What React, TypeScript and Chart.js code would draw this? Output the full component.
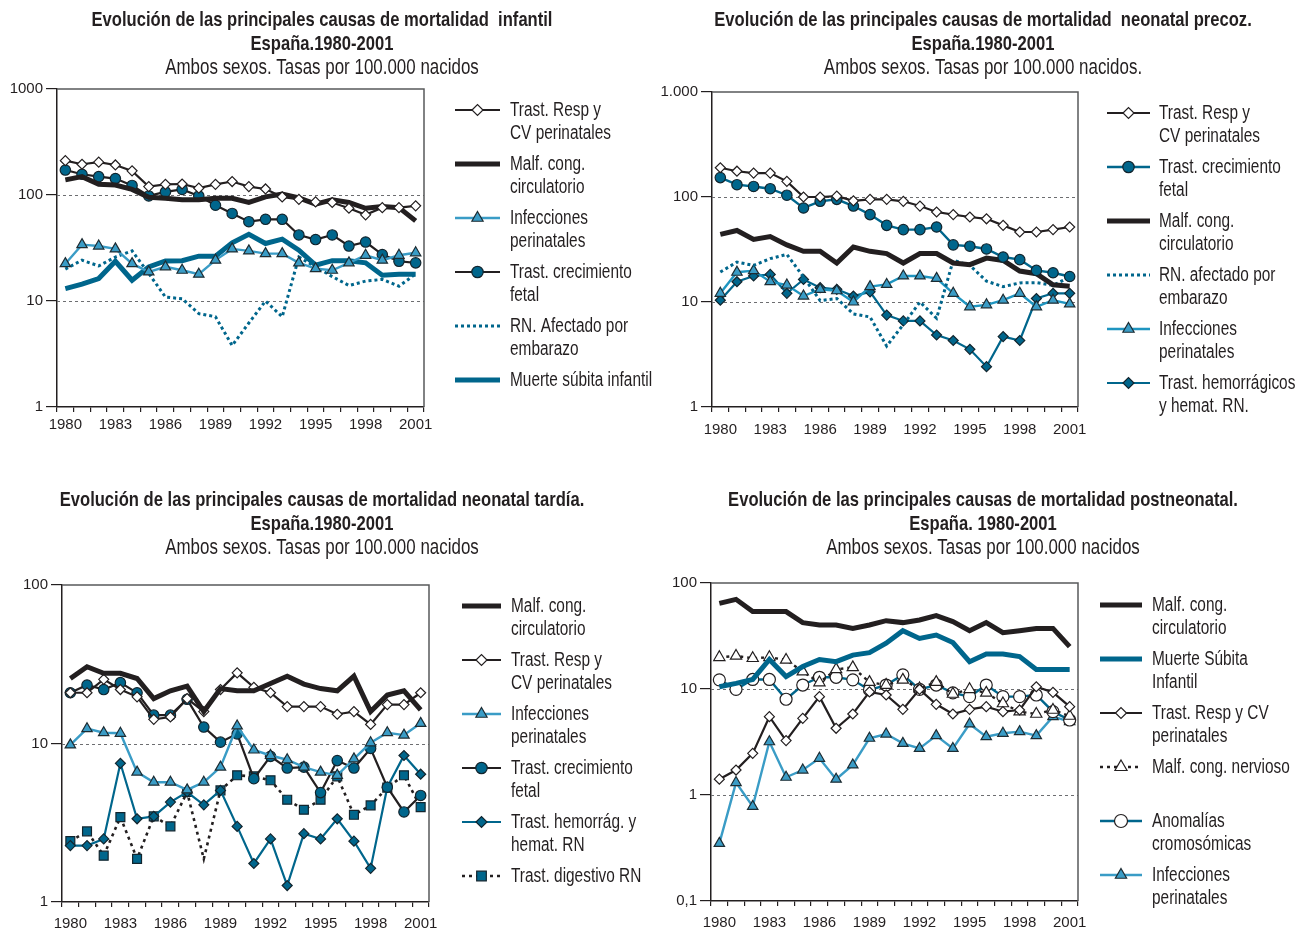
import React, { useEffect, useRef } from 'react';
import { Chart, registerables } from 'chart.js';
import { drawPoint } from 'chart.js/helpers';

Chart.register(...registerables);
Chart.defaults.font.family = "'Liberation Sans', Arial, sans-serif";

// ---------- categories ----------
const YEARS = ['1980', '1981', '1982', '1983', '1984', '1985', '1986', '1987', '1988', '1989', '1990',
  '1991', '1992', '1993', '1994', '1995', '1996', '1997', '1998', '1999', '2000', '2001'];

// ---------- panel 1: mortalidad infantil ----------
const P1_TICKS = [1, 10, 100, 1000];
const P1_TICK_LABELS = ['1', '10', '100', '1000'];
const p1Resp = [211, 195, 204, 192, 169, 120, 126, 127, 116, 126, 134, 120, 114, 96, 91, 86, 85, 75, 65, 76, 76, 79];
const p1Malf = [139, 149, 126, 124, 113, 95, 93, 90, 90, 93, 93, 85, 96, 102, 94, 82, 90, 85, 75, 78, 76, 57];
const p1Infec = [22.5, 34, 33, 31, 22.5, 18.8, 21, 19.5, 17.9, 24.3, 31, 29.7, 28, 28, 22.9, 20.2, 19.5, 22.9, 27, 24.3, 27, 28.5];
const p1Crec = [172, 157, 149, 143, 123, 98, 107, 113, 98, 80, 67, 56, 59, 59, 42, 38, 42, 33, 36, 27.4, 23.7, 22.9];
const p1RN = [20, 24.3, 21.4, 26, 29.7, 18.2, 10.9, 10.5, 7.6, 7.1, 3.8, 6.2, 10, 7.1, 26, 21, 17, 14, 15.4, 16, 13.8, 18];
const p1Muerte = [13.1, 14.4, 16.3, 23.7, 15.7, 21, 23.9, 24, 26.5, 26.5, 35.4, 42.5, 34.9, 38.3, 30.2, 21.8, 24, 24, 22.9, 17.5, 17.9, 17.9];

// ---------- panel 2: neonatal precoz ----------
const P2_TICKS = [1, 10, 100, 1000];
const P2_TICK_LABELS = ['1', '10', '100', '1.000'];
const p2Resp = [190, 176, 169, 169, 141, 100, 100, 102, 92, 95, 95, 91, 82, 72, 68, 64.5, 62, 53.7, 46.4, 46.4, 48.9, 51.8];
const p2Crec = [153, 131, 126, 120, 104, 78.6, 91, 95, 82, 68, 53.7, 48.9, 48.9, 51.8, 35, 34, 32, 26.8, 25.3, 20, 19, 17.5];
const p2Malf = [44, 48, 39.5, 42, 35, 30.4, 30.4, 23.5, 33.4, 30.4, 28.9, 23.5, 28.9, 28.9, 23.5, 22.7, 26.2, 24.9, 19.7, 18.6, 14.6, 14.1];
const p2RN = [19.3, 24, 22.3, 25.9, 28.4, 17.3, 10.3, 10.8, 7.7, 7.2, 3.8, 6.1, 10, 7, 25, 22.3, 15.8, 14, 15.2, 15.3, 14.4, 17.3];
const p2Infec = [12.1, 19.2, 19.9, 15.6, 14.5, 11.4, 13.2, 12.8, 10, 14, 14.7, 17.7, 17.7, 16.8, 12.1, 9.0, 9.4, 10.4, 12.1, 9.0, 10.4, 9.6];
const p2Hemor = [10.4, 15.6, 17.7, 18.3, 12.1, 16.4, 13.7, 13.2, 11.4, 12.5, 7.5, 6.6, 6.6, 4.85, 4.3, 3.54, 2.42, 4.68, 4.3, 10.8, 12.1, 12.1];

// ---------- panel 3: neonatal tardía ----------
const P3_TICKS = [1, 10, 100];
const P3_TICK_LABELS = ['1', '10', '100'];
const p3Malf = [25.7, 30.5, 27.7, 27.7, 25.7, 19.2, 21.5, 23, 15.9, 22.2, 21.5, 21.5, 23.9, 26.6, 23.7, 22.2, 21.5, 26.6, 15.9, 20.2, 21.5, 16.3];
const p3Resp = [20.9, 20.9, 25.4, 21.9, 19.7, 14.2, 14.7, 19.2, 15.9, 21.9, 27.9, 22.6, 20.9, 17.1, 17.1, 17.1, 15.3, 15.9, 13.2, 17.6, 17.6, 20.9];
const p3Infec = [9.8, 12.4, 11.7, 11.6, 6.6, 5.7, 5.7, 5.1, 5.7, 7.1, 12.9, 9.1, 8.4, 7.9, 7.1, 6.6, 6.3, 8.0, 10.1, 11.7, 11.3, 13.4];
const p3Crec = [20.9, 23.4, 21.9, 24.2, 20.9, 15.1, 15.1, 19.0, 12.7, 10.2, 11.5, 6.0, 8.3, 7.0, 7.1, 4.9, 7.8, 7.0, 9.3, 5.3, 3.7, 4.7];
const p3Hemor = [2.27, 2.27, 2.5, 7.5, 3.35, 3.47, 4.27, 4.94, 4.1, 5.06, 3.0, 1.75, 2.5, 1.27, 2.7, 2.5, 3.35, 2.42, 1.63, 5.3, 8.4, 6.4];
const p3Dig = [2.42, 2.79, 1.96, 3.43, 1.87, 3.47, 3.0, 4.94, 1.87, 5.06, 6.3, 6.2, 5.86, 4.42, 3.82, 4.42, 6.2, 3.55, 4.07, 5.27, 6.3, 3.97];
const p3DigMarker = [1, 1, 1, 1, 1, 1, 1, 1, 0, 1, 1, 1, 1, 1, 1, 1, 1, 1, 1, 1, 1, 1];

// ---------- panel 4: postneonatal ----------
const P4_TICKS = [0.1, 1, 10, 100];
const P4_TICK_LABELS = ['0,1', '1', '10', '100'];
const p4Malf = [64.3, 70.1, 53.7, 53.7, 53.7, 42.3, 40.2, 40.2, 37.3, 40.2, 44.1, 42.3, 44.8, 49.2, 43.2, 35.5, 42.3, 34.0, 35.5, 37.3, 37.3, 25.1];
const p4Muerte = [10.5, 11.3, 12.3, 19.0, 13.1, 16.3, 19.0, 18.1, 20.9, 22.0, 27.0, 35.5, 30.0, 32.3, 27.4, 18.1, 21.4, 21.4, 20.2, 15.3, 15.3, 15.3];
const p4Resp = [1.41, 1.72, 2.47, 5.48, 3.26, 5.29, 8.47, 4.26, 5.81, 9.4, 8.78, 6.43, 9.93, 7.17, 5.81, 6.43, 6.81, 6.11, 6.34, 10.5, 9.3, 6.81];
const p4Nerv = [19.9, 20.5, 19.5, 19.9, 18.8, 14.6, 11.5, 15.3, 16.0, 11.6, 10.9, 12.2, 10.1, 11.6, 8.97, 9.93, 9.2, 7.3, 6.11, 5.81, 6.34, 5.56];
const p4Anom = [12.2, 9.93, 12.3, 12.3, 8.0, 10.9, 12.9, 12.9, 12.2, 9.8, 10.9, 13.6, 9.93, 10.9, 9.2, 8.47, 10.9, 8.47, 8.47, 8.78, 6.11, 5.1];
const p4Infec = [0.35, 1.31, 0.78, 3.18, 1.47, 1.72, 2.22, 1.41, 1.92, 3.43, 3.76, 3.07, 2.75, 3.63, 2.75, 4.68, 3.55, 3.82, 3.96, 3.63, 5.48, 4.92];

// ---------- styles ----------
const INK = '#231f20';
const DBLUE = '#00668c';
const LBLUE = '#3a9cc6';
const TEAL = '#1f95c0';

type Sty = { color: string; width: number; dash?: number[]; marker?: string; r?: number | number[]; fill?: string; edge?: string };

function line(label: string, data: number[], s: Sty) {
  return {
    label,
    data,
    borderColor: s.color,
    backgroundColor: s.color,
    borderWidth: s.width,
    borderDash: s.dash || [],
    borderCapStyle: 'butt',
    borderJoinStyle: 'miter',
    tension: 0,
    fill: false,
    pointStyle: s.marker || 'circle',
    pointRadius: s.marker ? (s.r ?? 5) : 0,
    pointHoverRadius: s.marker ? (s.r ?? 5) : 0,
    pointBackgroundColor: s.fill || '#ffffff',
    pointBorderColor: s.edge || INK,
    pointBorderWidth: 1.2,
  };
}

const thinBlackDiamond: Sty = { color: INK, width: 2.2, marker: 'rectRot', r: 5, fill: '#ffffff', edge: INK };
const thickBlack: Sty = { color: INK, width: 5 };
const thickBlue: Sty = { color: DBLUE, width: 5 };
const blueDots: Sty = { color: DBLUE, width: 3, dash: [3, 3] };
const lightTri: Sty = { color: LBLUE, width: 2.4, marker: 'triangle', r: 6, fill: LBLUE, edge: '#1d2c33' };
const tealTri: Sty = { color: TEAL, width: 2.4, marker: 'triangle', r: 6, fill: LBLUE, edge: '#1d2c33' };
const blackCircle: Sty = { color: INK, width: 2.2, marker: 'circle', r: 5.2, fill: DBLUE, edge: '#12252e' };
const blueCircle: Sty = { color: DBLUE, width: 2.4, marker: 'circle', r: 5.2, fill: DBLUE, edge: '#12252e' };
const blueDiamond: Sty = { color: DBLUE, width: 2.2, marker: 'rectRot', r: 5, fill: DBLUE, edge: '#12252e' };

type Panel = {
  left: number; top: number; W: number; H: number;
  area: { L: number; T: number; R: number; B: number };
  xPad: number;
  yMin: number; yMax: number; yTicks: number[]; yLabels: string[]; grid: number[];
  titleX: number; titleY: number; bold: string[]; sub: string;
  legend: { x1: number; x2: number; tx: number; y0: number; entries: { ds: number; lines: string[] }[] };
  datasets: any[];
};

const PANELS: Panel[] = [
  {
    left: 0, top: 0, W: 655, H: 470,
    area: { L: 57, T: 89, R: 424, B: 407 }, xPad: 4,
    yMin: 1, yMax: 1000, yTicks: P1_TICKS, yLabels: P1_TICK_LABELS, grid: [10, 100],
    titleX: 322, titleY: 20,
    bold: ['Evolución de las principales causas de mortalidad  infantil', 'España.1980-2001'],
    sub: 'Ambos sexos. Tasas por 100.000 nacidos',
    legend: {
      x1: 455, x2: 500, tx: 510, y0: 110, entries: [
        { ds: 0, lines: ['Trast. Resp y', 'CV perinatales'] },
        { ds: 1, lines: ['Malf. cong.', 'circulatorio'] },
        { ds: 2, lines: ['Infecciones', 'perinatales'] },
        { ds: 3, lines: ['Trast. crecimiento', 'fetal'] },
        { ds: 4, lines: ['RN. Afectado por', 'embarazo'] },
        { ds: 5, lines: ['Muerte súbita infantil'] },
      ],
    },
    datasets: [
      line('Trast. Resp y CV perinatales', p1Resp, thinBlackDiamond),
      line('Malf. cong. circulatorio', p1Malf, thickBlack),
      line('Infecciones perinatales', p1Infec, lightTri),
      line('Trast. crecimiento fetal', p1Crec, blackCircle),
      line('RN. Afectado por embarazo', p1RN, blueDots),
      line('Muerte súbita infantil', p1Muerte, thickBlue),
    ],
  },
  {
    left: 655, top: 0, W: 655, H: 470,
    area: { L: 57, T: 92, R: 423, B: 407 }, xPad: 9,
    yMin: 1, yMax: 1000, yTicks: P2_TICKS, yLabels: P2_TICK_LABELS, grid: [10, 100],
    titleX: 328, titleY: 20,
    bold: ['Evolución de las principales causas de mortalidad  neonatal precoz.', 'España.1980-2001'],
    sub: 'Ambos sexos. Tasas por 100.000 nacidos.',
    legend: {
      x1: 452, x2: 495, tx: 504, y0: 113, entries: [
        { ds: 0, lines: ['Trast. Resp y', 'CV perinatales'] },
        { ds: 1, lines: ['Trast. crecimiento', 'fetal'] },
        { ds: 2, lines: ['Malf. cong.', 'circulatorio'] },
        { ds: 3, lines: ['RN. afectado por', 'embarazo'] },
        { ds: 4, lines: ['Infecciones', 'perinatales'] },
        { ds: 5, lines: ['Trast. hemorrágicos', 'y hemat. RN.'] },
      ],
    },
    datasets: [
      line('Trast. Resp y CV perinatales', p2Resp, thinBlackDiamond),
      line('Trast. crecimiento fetal', p2Crec, blueCircle),
      line('Malf. cong. circulatorio', p2Malf, thickBlack),
      line('RN. afectado por embarazo', p2RN, blueDots),
      line('Infecciones perinatales', p2Infec, tealTri),
      line('Trast. hemorrágicos y hemat. RN.', p2Hemor, blueDiamond),
    ],
  },
  {
    left: 0, top: 470, W: 655, H: 470,
    area: { L: 62, T: 115, R: 429, B: 432 }, xPad: 8,
    yMin: 1, yMax: 100, yTicks: P3_TICKS, yLabels: P3_TICK_LABELS, grid: [10],
    titleX: 322, titleY: 30,
    bold: ['Evolución de las principales causas de mortalidad neonatal tardía.', 'España.1980-2001'],
    sub: 'Ambos sexos. Tasas por 100.000 nacidos',
    legend: {
      x1: 462, x2: 501, tx: 511, y0: 136, entries: [
        { ds: 0, lines: ['Malf. cong.', 'circulatorio'] },
        { ds: 1, lines: ['Trast. Resp y', 'CV perinatales'] },
        { ds: 2, lines: ['Infecciones', 'perinatales'] },
        { ds: 3, lines: ['Trast. crecimiento', 'fetal'] },
        { ds: 4, lines: ['Trast. hemorrág. y', 'hemat. RN'] },
        { ds: 5, lines: ['Trast. digestivo RN'] },
      ],
    },
    datasets: [
      line('Malf. cong. circulatorio', p3Malf, thickBlack),
      line('Trast. Resp y CV perinatales', p3Resp, thinBlackDiamond),
      line('Infecciones perinatales', p3Infec, lightTri),
      line('Trast. crecimiento fetal', p3Crec, blackCircle),
      line('Trast. hemorrág. y hemat. RN', p3Hemor, blueDiamond),
      line('Trast. digestivo RN', p3Dig, { color: INK, width: 2.6, dash: [3, 4], marker: 'rect', r: p3DigMarker.map((m) => m * 6.3), fill: DBLUE, edge: '#12252e' }),
    ],
  },
  {
    left: 655, top: 470, W: 655, H: 470,
    area: { L: 56, T: 113, R: 423, B: 431 }, xPad: 8,
    yMin: 0.1, yMax: 100, yTicks: P4_TICKS, yLabels: P4_TICK_LABELS, grid: [1, 10],
    titleX: 328, titleY: 30,
    bold: ['Evolución de las principales causas de mortalidad postneonatal.', 'España. 1980-2001'],
    sub: 'Ambos sexos. Tasas por 100.000 nacidos',
    legend: {
      x1: 445, x2: 487, tx: 497, y0: 135, entries: [
        { ds: 0, lines: ['Malf. cong.', 'circulatorio'] },
        { ds: 1, lines: ['Muerte Súbita', 'Infantil'] },
        { ds: 2, lines: ['Trast. Resp y CV', 'perinatales'] },
        { ds: 3, lines: ['Malf. cong. nervioso'] },
        { ds: 4, lines: ['Anomalías', 'cromosómicas'] },
        { ds: 5, lines: ['Infecciones', 'perinatales'] },
      ],
    },
    datasets: [
      line('Malf. cong. circulatorio', p4Malf, thickBlack),
      line('Muerte Súbita Infantil', p4Muerte, thickBlue),
      line('Trast. Resp y CV perinatales', p4Resp, thinBlackDiamond),
      line('Malf. cong. nervioso', p4Nerv, { color: INK, width: 2.4, dash: [3, 4], marker: 'triangle', r: 6.5, fill: '#ffffff', edge: INK }),
      line('Anomalías cromosómicas', p4Anom, { color: DBLUE, width: 2.4, marker: 'circle', r: 6, fill: '#ffffff', edge: INK }),
      line('Infecciones perinatales', p4Infec, lightTri),
    ],
  },
];

function txt(ctx: CanvasRenderingContext2D, s: string, x: number, y: number, font: string, align: CanvasTextAlign, sx: number) {
  ctx.save();
  ctx.font = font;
  ctx.fillStyle = INK;
  ctx.textBaseline = 'middle';
  ctx.textAlign = align;
  ctx.translate(x, y);
  ctx.scale(sx, 1);
  ctx.fillText(s, 0, 0);
  ctx.restore();
}

function makeDeco(p: Panel) {
  return {
    id: 'deco',
    beforeDatasetsDraw(chart: any) {
      const { ctx, chartArea: a } = chart;
      const ys = chart.scales.y;
      ctx.save();
      ctx.strokeStyle = '#6d6e71';
      ctx.lineWidth = 1;
      ctx.setLineDash([3, 3]);
      for (const v of p.grid) {
        const py = Math.round(ys.getPixelForValue(v)) + 0.5;
        ctx.beginPath();
        ctx.moveTo(a.left, py);
        ctx.lineTo(a.right, py);
        ctx.stroke();
      }
      ctx.setLineDash([]);
      ctx.strokeStyle = '#58595b';
      ctx.lineWidth = 1.5;
      ctx.beginPath();
      ctx.moveTo(a.left, a.top);
      ctx.lineTo(a.right, a.top);
      ctx.lineTo(a.right, a.bottom);
      ctx.stroke();
      ctx.restore();
    },
    afterDraw(chart: any) {
      const ctx: CanvasRenderingContext2D = chart.ctx;
      // titles
      txt(ctx, p.bold[0], p.titleX, p.titleY, "bold 21px 'Liberation Sans', Arial, sans-serif", 'center', 0.79);
      txt(ctx, p.bold[1], p.titleX, p.titleY + 24, "bold 21px 'Liberation Sans', Arial, sans-serif", 'center', 0.79);
      txt(ctx, p.sub, p.titleX, p.titleY + 48, "22px 'Liberation Sans', Arial, sans-serif", 'center', 0.77);
      // legend
      const L = p.legend;
      L.entries.forEach((e, k) => {
        const yy = L.y0 + k * 54;
        const d = p.datasets[e.ds];
        ctx.save();
        ctx.strokeStyle = d.borderColor;
        ctx.lineWidth = d.borderWidth;
        ctx.lineCap = 'butt';
        ctx.setLineDash(d.borderDash || []);
        ctx.beginPath();
        ctx.moveTo(L.x1, yy);
        ctx.lineTo(L.x2, yy);
        ctx.stroke();
        ctx.restore();
        const r = Array.isArray(d.pointRadius) ? Math.max(...d.pointRadius) : d.pointRadius;
        if (r > 0) {
          ctx.save();
          ctx.fillStyle = d.pointBackgroundColor;
          ctx.strokeStyle = d.pointBorderColor;
          ctx.lineWidth = d.pointBorderWidth;
          ctx.setLineDash([]);
          drawPoint(ctx, { pointStyle: d.pointStyle, radius: r + 0.5, rotation: 0, borderWidth: d.pointBorderWidth } as any, (L.x1 + L.x2) / 2, yy);
          ctx.restore();
        }
        e.lines.forEach((t, i) => txt(ctx, t, L.tx, yy + i * 23.5, "20px 'Liberation Sans', Arial, sans-serif", 'left', 0.77));
      });
    },
  };
}

function PanelChart({ p }: { p: Panel }) {
  const ref = useRef<HTMLCanvasElement | null>(null);
  useEffect(() => {
    if (!ref.current) return;
    const a = p.area;
    const chart = new Chart(ref.current, {
      type: 'line',
      data: { labels: YEARS, datasets: p.datasets },
      plugins: [makeDeco(p)],
      options: {
        responsive: false,
        animation: false,
        devicePixelRatio: 1,
        events: [],
        layout: { padding: { left: 0, top: a.T, right: p.W - a.R, bottom: p.H - a.B - 30 } },
        plugins: { legend: { display: false }, title: { display: false }, tooltip: { enabled: false } },
        scales: {
          x: {
            type: 'category',
            offset: true,
            grid: { drawOnChartArea: false, drawTicks: true, tickLength: 5, color: INK, lineWidth: 1.2, offset: true },
            border: { color: INK, width: 1.5 },
            ticks: {
              autoSkip: false,
              maxRotation: 0,
              minRotation: 0,
              padding: p.xPad,
              color: INK,
              font: { size: 15 },
              callback: (_v: any, i: number) => (i % 3 === 0 ? YEARS[i] : ''),
            },
            afterFit: (s: any) => { s.height = 30; },
          },
          y: {
            type: 'logarithmic',
            min: p.yMin,
            max: p.yMax,
            afterBuildTicks: (s: any) => { s.ticks = p.yTicks.map((v) => ({ value: v })); },
            grid: { drawOnChartArea: false, drawTicks: true, tickLength: 11, color: INK, lineWidth: 1.2 },
            border: { color: INK, width: 1.5 },
            ticks: {
              autoSkip: false,
              padding: 3,
              color: INK,
              font: { size: 15 },
              callback: (_v: any, i: number) => p.yLabels[i],
            },
            afterFit: (s: any) => { s.width = a.L; },
          },
        },
      } as any,
    });
    return () => chart.destroy();
  }, [p]);
  return (
    <canvas
      ref={ref}
      width={p.W}
      height={p.H}
      style={{ position: 'absolute', left: p.left, top: p.top, width: p.W, height: p.H }}
    />
  );
}

export default function App() {
  return (
    <div style={{ position: 'absolute', left: 0, top: 0, width: 1310, height: 940, background: '#ffffff' }}>
      {PANELS.map((p, i) => (
        <PanelChart key={i} p={p} />
      ))}
    </div>
  );
}
